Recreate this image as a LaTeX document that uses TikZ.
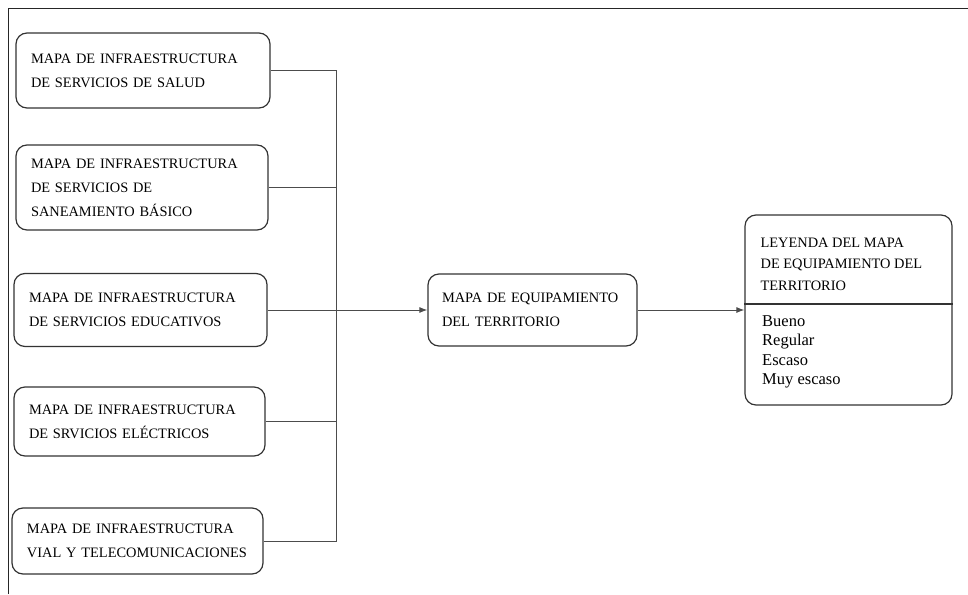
\documentclass[tikz,border=0pt]{standalone}
\usepackage{fontspec}
\setmainfont{Liberation Serif}
\usetikzlibrary{arrows.meta, positioning}

\begin{document}
\begin{tikzpicture}[x=1pt, y=-1pt,
  mapbox/.style={draw=black!80, line width=1.2pt, rounded corners=11pt, align=left,
    inner xsep=15pt, inner ysep=0pt, font=\fontsize{14.4}{24}\selectfont},
  link/.style={draw=black!70, line width=1pt},
  arrowlink/.style={link, -{Latex[length=8pt, width=6pt]}},
  legendtext/.style={anchor=north west, inner sep=0pt, align=left}]
\useasboundingbox (0,0) rectangle (968,594);
\draw[black!85, line width=1pt] (8,594) -- (8,9) -- (968,9);

\node[mapbox, text width=224pt, minimum height=75pt] (salud) at (143,70.5) {MAPA DE INFRAESTRUCTURA\\DE SERVICIOS DE SALUD};
\node[mapbox, text width=222pt, minimum height=85pt] (saneamiento) at (142,187.5) {MAPA DE INFRAESTRUCTURA\\DE SERVICIOS DE\\SANEAMIENTO BÁSICO};
\node[mapbox, text width=223pt, minimum height=73pt] (educativos) at (140.5,310) {MAPA DE INFRAESTRUCTURA\\DE SERVICIOS EDUCATIVOS};
\node[mapbox, text width=221pt, minimum height=69pt] (electricos) at (139.5,421.5) {MAPA DE INFRAESTRUCTURA\\DE SRVICIOS ELÉCTRICOS};
\node[mapbox, text width=221pt, minimum height=66pt] (vial) at (137.5,541) {MAPA DE INFRAESTRUCTURA\\VIAL Y TELECOMUNICACIONES};

\node[mapbox, inner xsep=14pt, text width=181pt, minimum height=72pt] (equipamiento) at (532.5,310) {MAPA DE EQUIPAMIENTO\\DEL TERRITORIO};

\node[draw=black!80, line width=1.2pt, rounded corners=11pt, minimum width=207pt, minimum height=190pt] (leyenda) at (848.5,310) {};
\node[legendtext, font=\fontsize{14.4}{21.5}\selectfont] (leyendatitulo) at ([xshift=16pt, yshift=-23pt]leyenda.north west) {LEYENDA DEL MAPA\\DE EQUIPAMIENTO DEL\\TERRITORIO};
\coordinate (divisor) at (0,304);
\draw[black!80, line width=1.2pt] (leyenda.west |- divisor) -- (leyenda.east |- divisor);
\node[legendtext, font=\fontsize{16.5}{19.5}\selectfont] (leyendaclases) at (762,315) {Bueno\\Regular\\Escaso\\Muy escaso};

\coordinate (bus) at (336,310);
\draw[link] (salud.east) -| (bus);
\draw[link] (vial.east) -| (bus);
\draw[link] (saneamiento.east) -- (saneamiento.east -| bus);
\draw[link] (electricos.east) -- (electricos.east -| bus);
\draw[arrowlink] (educativos.east) -- (equipamiento.west);
\draw[arrowlink] (equipamiento.east) -- (leyenda.west);
\end{tikzpicture}
\end{document}
